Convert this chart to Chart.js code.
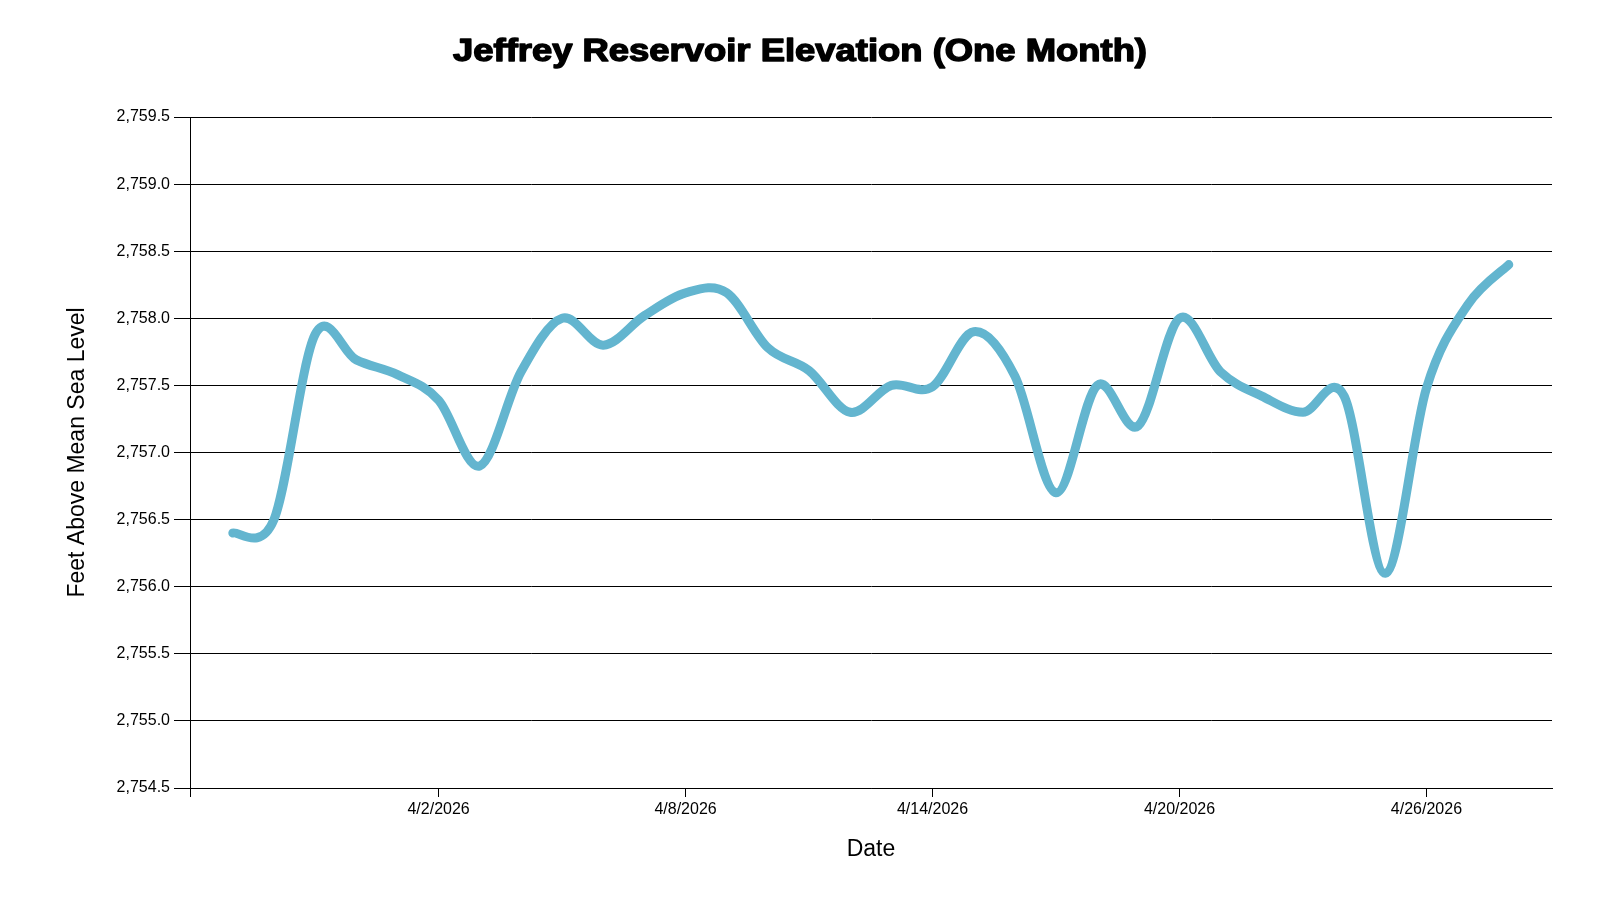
<!DOCTYPE html>
<html>
<head>
<meta charset="utf-8">
<script src="https://cdn.jsdelivr.net/npm/chart.js@4.4.1/dist/chart.umd.min.js"></script>
<style>
  html, body { margin: 0; padding: 0; background: #ffffff; }
  #wrap { width: 1600px; height: 900px; }
</style>
</head>
<body>
<div id="wrap"><canvas id="c" width="1600" height="900"></canvas></div>
<script>
const chartTitle = 'Jeffrey Reservoir Elevation (One Month)';
const xAxisTitle = 'Date';
const yAxisTitle = 'Feet Above Mean Sea Level';

const dates = [
  '2026-03-28','2026-03-29','2026-03-30','2026-03-31','2026-04-01','2026-04-02','2026-04-03',
  '2026-04-04','2026-04-05','2026-04-06','2026-04-07','2026-04-08','2026-04-09','2026-04-10',
  '2026-04-11','2026-04-12','2026-04-13','2026-04-14','2026-04-15','2026-04-16','2026-04-17',
  '2026-04-18','2026-04-19','2026-04-20','2026-04-21','2026-04-22','2026-04-23','2026-04-24',
  '2026-04-25','2026-04-26','2026-04-27','2026-04-28'
];
const elevations = [
  2756.40, 2756.50, 2757.88, 2757.69, 2757.58, 2757.39, 2756.90,
  2757.60, 2758.00, 2757.80, 2758.02, 2758.19, 2758.19, 2757.78,
  2757.61, 2757.30, 2757.50, 2757.49, 2757.90, 2757.57, 2756.70,
  2757.50, 2757.20, 2758.00, 2757.60, 2757.42, 2757.30, 2757.42,
  2756.10, 2757.48, 2758.10, 2758.40
];
const xTickDates = ['2026-04-02','2026-04-08','2026-04-14','2026-04-20','2026-04-26'];
const xTickLabels = ['4/2/2026','4/8/2026','4/14/2026','4/20/2026','4/26/2026'];
const xDomainStart = '2026-03-27';
const xDomainEnd = '2026-04-29';
const yMin = 2754.5;
const yMax = 2759.5;
const yStep = 0.5;

function dayNum(s) {
  const [y, m, d] = s.split('-').map(Number);
  const [by, bm, bd] = xDomainStart.split('-').map(Number);
  return (Date.UTC(y, m - 1, d) - Date.UTC(by, bm - 1, bd)) / 86400000;
}

const FONT = '"Liberation Sans", Arial, sans-serif';
const X_MIN = dayNum(xDomainStart) - 0.04;
const X_MAX = dayNum(xDomainEnd) + 0.05;

const mainTitle = {
  id: 'mainTitle',
  afterDraw(chart) {
    const c = chart.ctx;
    c.save();
    c.font = 'bold 31px ' + FONT;
    c.textAlign = 'center';
    c.textBaseline = 'alphabetic';
    const w = c.measureText(chartTitle).width;
    c.translate(800, 61);
    c.scale(694 / w, 1);
    c.fillStyle = '#000';
    c.strokeStyle = '#000';
    c.lineWidth = 1.4;
    c.lineJoin = 'round';
    c.fillText(chartTitle, 0, 0);
    c.strokeText(chartTitle, 0, 0);
    c.restore();
  }
};

// Cardinal (Catmull-Rom) control points computed from the scaled point positions
const cardinalCurve = {
  id: 'cardinalCurve',
  beforeDatasetDraw(chart, args) {
    const meta = args.meta;
    const line = meta.dataset;
    const pts = meta.data;
    line.updateControlPoints(chart.chartArea, meta.iScale.axis);
    const k = 1 / 6;
    for (let i = 0; i < pts.length; i++) {
      const p = pts[i];
      const a = pts[i - 1] || p;
      const b = pts[i + 1] || p;
      const dx = (b.x - a.x) * k;
      const dy = (b.y - a.y) * k;
      p.cp1x = p.x - dx; p.cp1y = p.y - dy;
      p.cp2x = p.x + dx; p.cp2y = p.y + dy;
    }
    line._path = undefined;
  }
};

new Chart(document.getElementById('c'), {
  type: 'line',
  data: {
    datasets: [{
      data: dates.map((d, i) => ({ x: dayNum(d), y: elevations[i] })),
      borderColor: '#63b5cf',
      borderWidth: 9,
      tension: 0.4,
      pointRadius: 0,
      borderCapStyle: 'round',
      borderJoinStyle: 'round',
      fill: false
    }]
  },
  options: {
    responsive: false,
    animation: false,
    devicePixelRatio: 1,
    layout: { padding: { top: 117, right: 48, left: 0, bottom: 0 } },
    plugins: {
      legend: { display: false },
      title: { display: false },
      tooltip: { enabled: false }
    },
    scales: {
      x: {
        type: 'linear',
        min: X_MIN,
        max: X_MAX,
        afterBuildTicks: (s) => {
          s.ticks = [{ value: X_MIN }].concat(xTickDates.map(d => ({ value: dayNum(d) })));
        },
        ticks: {
          callback: (v, i) => (i === 0 ? '' : xTickLabels[i - 1]),
          color: '#000',
          font: { family: FONT, size: 16 },
          padding: 3,
          maxRotation: 0,
          autoSkip: false
        },
        grid: { drawOnChartArea: false, drawTicks: true, tickLength: 9, color: '#000', lineWidth: 1 },
        border: { display: true, color: '#000', width: 1 },
        title: {
          display: true, text: xAxisTitle, color: '#000',
          font: { family: FONT, size: 23 },
          padding: { top: 0, bottom: 37 }
        },
        afterFit: (s) => { s.height = 112; }
      },
      y: {
        min: yMin,
        max: yMax,
        ticks: {
          stepSize: yStep,
          callback: (v) => Number(v).toLocaleString('en-US', { minimumFractionDigits: 1, maximumFractionDigits: 1 }),
          color: '#000',
          font: { family: FONT, size: 16 },
          padding: 4
        },
        grid: { color: '#000', lineWidth: 1, tickLength: 16, drawOnChartArea: true },
        border: { display: true, color: '#000', width: 1 },
        title: {
          display: true, text: yAxisTitle, color: '#000',
          font: { family: FONT, size: 23 },
          padding: { top: 64, bottom: 0 }
        },
        afterFit: (s) => { s.width = 190; }
      }
    }
  },
  plugins: [mainTitle, cardinalCurve]
});
</script>
</body>
</html>
